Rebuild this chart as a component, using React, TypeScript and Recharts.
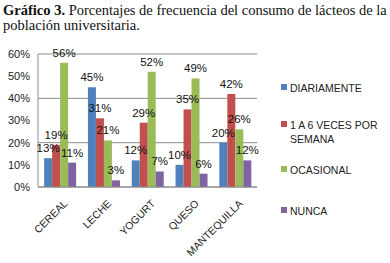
import { Bar, BarChart, CartesianGrid, LabelList, XAxis, YAxis } from "recharts";

const CATEGORIES = ["CEREAL", "LECHE", "YOGURT", "QUESO", "MANTEQUILLA"];
const DIARIAMENTE = [13, 45, 12, 10, 20];
const SEMANA = [19, 31, 29, 35, 42];
const OCASIONAL = [56, 21, 52, 49, 26];
const NUNCA = [11, 3, 7, 6, 12];
const Y_TICKS = [0, 10, 20, 30, 40, 50, 60];

const SERIES = [
  { key: "d", name: "DIARIAMENTE", color: "#4f81bd" },
  { key: "s", name: "1 A 6 VECES POR SEMANA", color: "#c0504d" },
  { key: "o", name: "OCASIONAL", color: "#9bbb59" },
  { key: "n", name: "NUNCA", color: "#8064a2" },
];

const data = CATEGORIES.map((c, i) => ({
  name: c,
  d: DIARIAMENTE[i],
  s: SEMANA[i],
  o: OCASIONAL[i],
  n: NUNCA[i],
}));

const FONT = "'Liberation Sans', Arial, sans-serif";

function LegendBox() {
  // Excel-style legend: spread down the right side
  const tops = [0, 37, 82, 123];
  return (
    <div style={{ position: "absolute", left: 281, top: 81, width: 105, fontFamily: FONT, fontSize: 10.5, color: "#222" }}>
      {SERIES.map((s, i) => (
        <div key={s.key} style={{ position: "absolute", top: tops[i], left: 0, display: "flex", alignItems: "flex-start" }}>
          <span style={{ width: 6, height: 6, background: s.color, marginTop: 3, marginRight: 3, flex: "none" }} />
          <span style={{ lineHeight: "14px", width: 94 }}>{s.name}</span>
        </div>
      ))}
    </div>
  );
}

export default function App() {
  return (
    <div style={{ position: "absolute", left: 0, top: 0, width: 390, height: 263, background: "#fff" }}>
      <div
        style={{
          position: "absolute",
          left: 3,
          top: 3,
          width: 395,
          whiteSpace: "nowrap",
          fontFamily: "'Liberation Serif', 'DejaVu Serif', serif",
          fontSize: 14.5,
          lineHeight: "15px",
          color: "#111",
        }}
      >
        <b>Gráfico 3.</b> Porcentajes de frecuencia del consumo de lácteos de la
        <br />
        población universitaria.
      </div>
      <BarChart
        width={390}
        height={263}
        data={data}
        margin={{ top: 54, right: 133, bottom: 0, left: 0 }}
        barCategoryGap="14%"
        barGap={0}
      >
        <CartesianGrid vertical={false} stroke="#8c8c8c" />
        <XAxis
          dataKey="name"
          height={76}
          stroke="#8c8c8c"
          tickLine={false}
          interval={0}
          angle={-45}
          textAnchor="end"
          tick={{ fontSize: 10.5, fill: "#222", fontFamily: FONT, dy: 4, dx: 3 }}
        />
        <YAxis
          width={38}
          domain={[0, 60]}
          ticks={Y_TICKS}
          tickFormatter={(v) => v + "%"}
          stroke="#8c8c8c"
          tickLine={false}
          tick={{ fontSize: 11, fill: "#222", fontFamily: FONT }}
        />
        {SERIES.map((s) => (
          <Bar key={s.key} dataKey={s.key} name={s.name} fill={s.color} isAnimationActive={false}>
            <LabelList
              dataKey={s.key}
              position="top"
              offset={6}
              formatter={(v: number) => v + "%"}
              style={{ fontSize: 11.5, fill: "#111", fontFamily: FONT }}
            />
          </Bar>
        ))}
      </BarChart>
      <LegendBox />
    </div>
  );
}
